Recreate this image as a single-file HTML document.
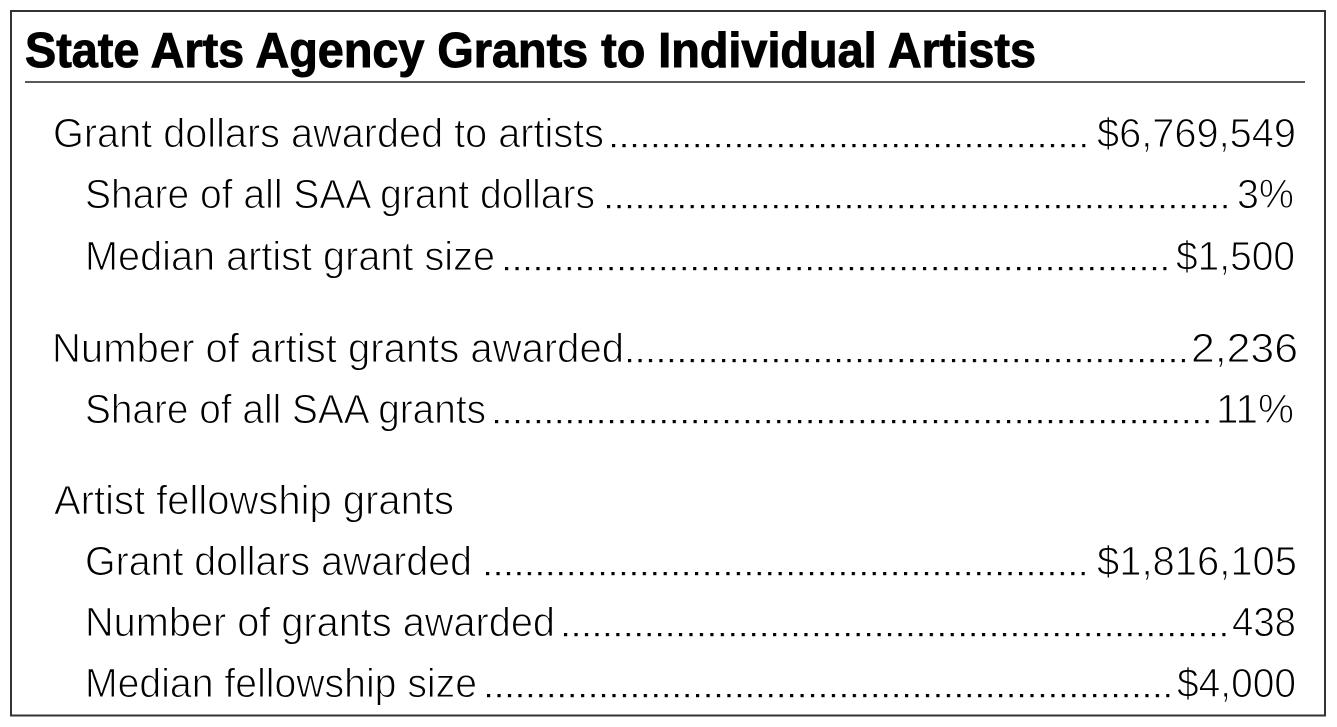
<!DOCTYPE html>
<html>
<head>
<meta charset="utf-8">
<style>
  html, body { margin: 0; padding: 0; background: #fff; }
  body { width: 1337px; height: 727px; overflow: hidden; }
  svg { display: block; }
  .lbl { font-family: "Liberation Sans", Arial, sans-serif; font-size: 41px; fill: #000; stroke: #fff; stroke-width: 1px; paint-order: normal; }
  .ttl { font-family: "Liberation Sans", Arial, sans-serif; font-size: 49px; font-weight: bold; fill: #000; stroke: #000; stroke-width: 1px; }
</style>
</head>
<body>
<svg width="1337" height="727" viewBox="0 0 1337 727" xmlns="http://www.w3.org/2000/svg">
  <defs>
    <pattern id="d1" patternUnits="userSpaceOnUse" x="612" y="0" width="10.45" height="1"><rect x="0" y="0" width="3.2" height="1" fill="#000"/></pattern>
    <pattern id="d2" patternUnits="userSpaceOnUse" x="607" y="0" width="10.45" height="1"><rect x="0" y="0" width="3.2" height="1" fill="#000"/></pattern>
    <pattern id="d3" patternUnits="userSpaceOnUse" x="505" y="0" width="10.45" height="1"><rect x="0" y="0" width="3.2" height="1" fill="#000"/></pattern>
    <pattern id="d4" patternUnits="userSpaceOnUse" x="628" y="0" width="10.45" height="1"><rect x="0" y="0" width="3.2" height="1" fill="#000"/></pattern>
    <pattern id="d5" patternUnits="userSpaceOnUse" x="495" y="0" width="10.45" height="1"><rect x="0" y="0" width="3.2" height="1" fill="#000"/></pattern>
    <pattern id="d7" patternUnits="userSpaceOnUse" x="486" y="0" width="10.45" height="1"><rect x="0" y="0" width="3.2" height="1" fill="#000"/></pattern>
    <pattern id="d8" patternUnits="userSpaceOnUse" x="564" y="0" width="10.45" height="1"><rect x="0" y="0" width="3.2" height="1" fill="#000"/></pattern>
    <pattern id="d9" patternUnits="userSpaceOnUse" x="487" y="0" width="10.45" height="1"><rect x="0" y="0" width="3.2" height="1" fill="#000"/></pattern>
  </defs>
  <rect x="0" y="0" width="1337" height="727" fill="#fff"/>
  <rect x="11" y="11" width="1314" height="704.5" fill="none" stroke="#333" stroke-width="2"/>

  <text class="ttl" x="25" y="67" textLength="1011" lengthAdjust="spacingAndGlyphs">State Arts Agency Grants to Individual Artists</text>
  <line x1="25" y1="82" x2="1305" y2="82" stroke="#222" stroke-width="1.6"/>

  <!-- Row 1 -->
  <text class="lbl" x="53" y="147" textLength="551" lengthAdjust="spacingAndGlyphs">Grant dollars awarded to artists</text>
  <rect x="612" y="144" width="473.45" height="3.2" fill="url(#d1)"/>
  <text class="lbl" x="1097" y="147" textLength="199" lengthAdjust="spacingAndGlyphs">$6,769,549</text>

  <!-- Row 2 -->
  <text class="lbl" x="85" y="208" textLength="510" lengthAdjust="spacingAndGlyphs">Share of all SAA grant dollars</text>
  <rect x="607" y="205" width="619.75" height="3.2" fill="url(#d2)"/>
  <text class="lbl" x="1237" y="208" textLength="57" lengthAdjust="spacingAndGlyphs">3%</text>

  <!-- Row 3 -->
  <text class="lbl" x="85" y="270" textLength="410" lengthAdjust="spacingAndGlyphs">Median artist grant size</text>
  <rect x="505" y="267" width="661.55" height="3.2" fill="url(#d3)"/>
  <text class="lbl" x="1176" y="270" textLength="119" lengthAdjust="spacingAndGlyphs">$1,500</text>

  <!-- Row 4 -->
  <text class="lbl" x="52" y="362" textLength="572" lengthAdjust="spacingAndGlyphs">Number of artist grants awarded</text>
  <rect x="628" y="359" width="557.05" height="3.2" fill="url(#d4)"/>
  <text class="lbl" x="1191" y="362" textLength="107" lengthAdjust="spacingAndGlyphs">2,236</text>

  <!-- Row 5 -->
  <text class="lbl" x="85" y="423" textLength="401" lengthAdjust="spacingAndGlyphs">Share of all SAA grants</text>
  <rect x="495" y="420" width="713.8" height="3.2" fill="url(#d5)"/>
  <text class="lbl" x="1216" y="423" textLength="78" lengthAdjust="spacingAndGlyphs">11%</text>

  <!-- Row 6 -->
  <text class="lbl" x="54" y="514" textLength="400" lengthAdjust="spacingAndGlyphs">Artist fellowship grants</text>

  <!-- Row 7 -->
  <text class="lbl" x="85" y="575" textLength="387" lengthAdjust="spacingAndGlyphs">Grant dollars awarded</text>
  <rect x="486" y="572" width="598.85" height="3.2" fill="url(#d7)"/>
  <text class="lbl" x="1097" y="575" textLength="200" lengthAdjust="spacingAndGlyphs">$1,816,105</text>

  <!-- Row 8 -->
  <text class="lbl" x="85" y="636" textLength="470" lengthAdjust="spacingAndGlyphs">Number of grants awarded</text>
  <rect x="564" y="633" width="661.55" height="3.2" fill="url(#d8)"/>
  <text class="lbl" x="1232" y="636" textLength="64" lengthAdjust="spacingAndGlyphs">438</text>

  <!-- Row 9 -->
  <text class="lbl" x="85" y="697" textLength="392" lengthAdjust="spacingAndGlyphs">Median fellowship size</text>
  <rect x="487" y="694" width="682.45" height="3.2" fill="url(#d9)"/>
  <text class="lbl" x="1177" y="697" textLength="119" lengthAdjust="spacingAndGlyphs">$4,000</text>
</svg>
</body>
</html>
